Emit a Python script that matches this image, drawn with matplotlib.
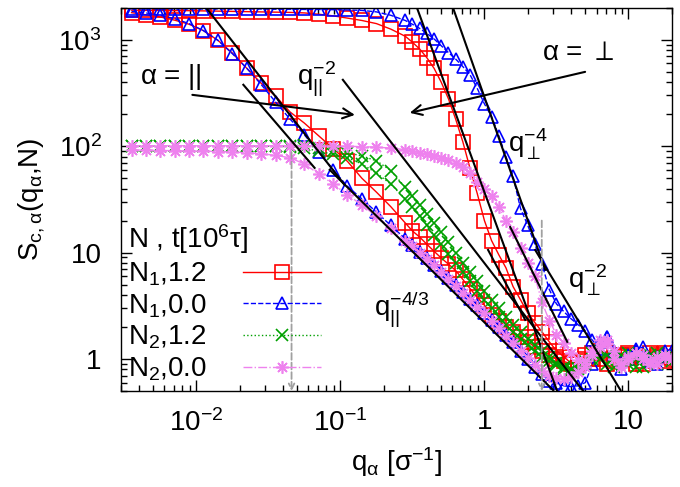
import numpy as np
import matplotlib
matplotlib.use("Agg")
import matplotlib.pyplot as plt
from matplotlib.lines import Line2D

plt.rcParams['font.family'] = ['Liberation Sans', 'DejaVu Sans']
plt.rcParams['mathtext.fontset'] = 'custom'
plt.rcParams['mathtext.rm'] = 'Liberation Sans'
plt.rcParams['mathtext.it'] = 'Liberation Sans:italic'
plt.rcParams['mathtext.bf'] = 'Liberation Sans:bold'
plt.rcParams['mathtext.sf'] = 'Liberation Sans'
plt.rcParams['mathtext.fallback'] = 'stixsans'

# ---- data ----
q = [0.00355, 0.00447, 0.00562, 0.00708, 0.00891, 0.0112, 0.0141, 0.0178, 0.0224, 0.0282,
     0.0355, 0.0447, 0.0562, 0.0708, 0.0891, 0.112, 0.141, 0.178, 0.224, 0.282,
     0.316, 0.355, 0.398, 0.447, 0.501, 0.562, 0.631, 0.708, 0.794, 0.891,
     1.0, 1.12, 1.26, 1.41, 1.58, 1.78, 2.0, 2.24, 2.51, 2.82,
     3.16, 3.55, 3.98, 4.47, 5.01, 5.62, 6.31, 7.08, 7.94, 8.91,
     10.0, 11.2, 12.6, 14.1, 15.8, 17.8, 20.0]

# N1, t=1.2
n1_12_par = [1800, 1720, 1640, 1530, 1400, 1220, 990, 750, 540, 390,
             295, 210, 165, 125, 95, 72, 50, 37, 27, 19,
             16, 14, 12, 10.3, 8.9, 7.8, 6.8, 5.6, 4.6, 3.8,
             3.2, 2.6, 2.3, 2.0, 1.8, 1.6, 1.45, 1.3, 1.2, 1.1,
             1.0, 0.95, 0.9, 0.95, 1.1, 1.0, 1.2, 1.15, 0.95, 1.05,
             1.1, 0.9, 0.95, 1.15, 1.05, 0.95, 1.0]
n1_12_perp = [1900, 1890, 1890, 1880, 1880, 1870, 1860, 1850, 1840, 1830,
              1820, 1810, 1790, 1740, 1680, 1600, 1520, 1420, 1260, 1080,
              950, 820, 680, 540, 400, 280, 180, 110, 62, 36,
              20, 13, 9.5, 7.2, 4.8, 3.6, 2.7, 2.2, 1.8, 1.45,
              1.2, 1.05, 0.92, 0.9, 1.0, 1.15, 1.0, 0.9, 1.0, 1.1,
              1.15, 1.05, 0.9, 1.0, 1.1, 1.15, 1.05]
# N1, t=0.0
n1_00_par = [1850, 1790, 1700, 1580, 1420, 1220, 990, 740, 540, 380,
             260, 180, 128, 88, 60, 42, 32, 24, 18, 13.5,
             11.7, 10.2, 8.9, 7.7, 6.7, 5.8, 5.0, 4.3, 3.7, 3.2,
             2.7, 2.35, 2.0, 1.7, 1.45, 1.2, 1.0, 0.85, 0.72, 0.62,
             0.6, 0.56, 0.55, 0.56, 0.6, 0.9, 1.45, 1.6, 1.1, 0.8,
             1.0, 1.2, 1.3, 1.0, 0.9, 1.1, 1.2]
n1_00_perp = [1950, 1950, 1950, 1950, 1950, 1950, 1950, 1950, 1950, 1950,
              1940, 1940, 1930, 1930, 1920, 1910, 1890, 1830, 1700, 1520,
              1400, 1280, 1150, 1020, 880, 760, 660, 560, 470, 350,
              250, 190, 125, 80, 52, 26, 18, 12, 7.8, 4.5,
              3.3, 2.8, 2.4, 2.1, 1.85, 1.5, 1.25, 1.6, 1.2, 0.95,
              1.1, 1.25, 1.05, 0.95, 1.05, 1.2, 1.1]
# N2, t=1.2
n2_12_par = [100, 100, 100, 100, 100, 100, 100, 100, 100, 100,
             100, 99, 96, 90, 84, 78, 68, 56, 44, 32,
             27, 22, 18, 14.5, 12, 9.8, 8.0, 6.6, 5.4, 4.4,
             3.6, 3.0, 2.5, 2.1, 1.8, 1.55, 1.35, 1.18, 1.05, 0.95,
             0.87, 0.8, 0.78, 0.8, 0.95, 1.15, 1.0, 0.9, 1.05, 1.1,
             0.9, 0.85, 1.05, 1.1, 0.9, 1.0, 1.05]
n2_12_perp = [101, 101, 100, 100, 101, 100, 100, 101, 100, 100,
              101, 101, 102, 97, 91, 87, 81, 73, 59, 41,
              34, 28, 23, 19, 15.5, 12.5, 10, 8.0, 6.6, 5.4,
              4.4, 3.6, 3.0, 2.5, 2.1, 1.8, 1.55, 1.35, 1.2, 1.05,
              0.92, 0.85, 0.8, 0.82, 0.9, 1.0, 1.2, 1.1, 0.85, 0.95,
              1.15, 1.0, 0.85, 0.95, 1.15, 1.05, 0.95]
# N2, t=0.0
n2_00_par = [92, 92, 91, 91, 90, 90, 89, 88, 87, 85,
             82, 78, 68, 55, 44, 35, 28, 22, 17, 13,
             11.5, 10, 8.8, 7.6, 6.6, 5.7, 4.9, 4.2, 3.6, 3.1,
             2.7, 2.3, 1.95, 1.65, 1.4, 1.2, 1.02, 0.88, 0.77, 0.7,
             0.66, 0.65, 0.68, 0.75, 0.85, 1.1, 1.5, 1.4, 1.0, 0.85,
             1.0, 1.15, 1.1, 0.95, 0.9, 1.05, 1.0]
n2_00_perp = [101, 101, 101, 101, 101, 101, 101, 101, 101, 101,
              101, 101, 101, 101, 100, 100, 99, 98, 96, 93,
              90, 87, 84, 81, 78, 74, 70, 64, 56, 46,
              40, 34, 27, 20, 15.5, 11, 8, 6, 3.4, 2.3,
              1.7, 1.4, 1.15, 0.98, 0.95, 1.2, 1.3, 1.5, 1.2, 0.9,
              1.05, 1.15, 1.0, 0.9, 1.05, 1.1, 1.0]

# black power-law guide lines: (q0, S0, q1, S1)
guide_lines = [
    (0.0117, 2000, 0.107, 43.3),    # steep || fit
    (0.0212, 378, 0.0662, 62.6),    # short || fit
    (0.0843, 60, 3.0, 0.51),        # q_||^-4/3
    (0.104, 421, 4.85, 0.50),       # q_||^-2
    (0.34, 2000, 3.2, 0.50),        # q_perp^-4 (N1, 1.2)
    (0.605, 2000, 2.64, 6.9),       # q_perp^-4 (N1, 0.0)
    (2.25, 10.6, 8.8, 0.51),        # q_perp^-2
    (1.51, 17.4, 3.76, 1.45),       # short perp fit
    (1.06, 10.6, 1.92, 2.33),       # short perp fit
]

# grey dashed markers (q, top S)
vmarks = [(0.0458, 88), (2.5, 20)]

series = [
    (n1_12_par, n1_12_perp, 'red', 's', '-', r'N$_1$,1.2'),
    (n1_00_par, n1_00_perp, 'blue', '^', '--', r'N$_1$,0.0'),
    (n2_12_par, n2_12_perp, '#00a000', 'x', ':', r'N$_2$,1.2'),
    (n2_00_par, n2_00_perp, 'violet', (8, 2, 0), '-.', r'N$_2$,0.0'),
]

fig = plt.figure(figsize=(6.8, 4.87), dpi=100)
ax = fig.add_axes([0.178, 0.197, 0.81, 0.787])

handles = []
for par, perp, col, mk, ls, lab in series:
    ms = 10 if mk == 's' else 9
    for yv in (par, perp):
        ax.plot(q, yv, color=col, ls=ls, lw=1.0, marker=mk, ms=ms, mfc='none',
                mec=col, mew=1.2)
    handles.append(Line2D([], [], color=col, ls=ls, lw=1.0, marker=mk, ms=ms,
                          mfc='none', mec=col, mew=1.2))

for q0, s0, q1, s1 in guide_lines:
    ax.plot([q0, q1], [s0, s1], color='black', lw=1.5)

for qv, top in vmarks:
    ax.annotate('', xy=(qv, 0.5), xytext=(qv, top),
                arrowprops=dict(arrowstyle='->', color='#a0a0a0', lw=1.3,
                                ls='--', shrinkA=0, shrinkB=0))

# direction arrows
ax.annotate('', xy=(0.126, 197), xytext=(0.00938, 304),
            arrowprops=dict(arrowstyle='->', color='black', lw=1.5,
                            shrinkA=0, shrinkB=0, mutation_scale=18))
ax.annotate('', xy=(0.303, 206), xytext=(5.0, 500),
            arrowprops=dict(arrowstyle='->', color='black', lw=1.5,
                            shrinkA=0, shrinkB=0, mutation_scale=18))

fs = 20
ax.text(0.0067, 450, r'$\mathrm{\alpha}$ = ||', fontsize=fs, ha='center', va='center')
ax.text(4.48, 757, r'$\mathrm{\alpha}$ = $\perp$', fontsize=fs, ha='center', va='center')
ax.text(0.0497, 370, r'q$_{||}^{-2}$', fontsize=fs, ha='left', va='baseline')
ax.text(1.46, 86.7, r'q$_{\perp}^{-4}$', fontsize=fs, ha='left', va='baseline')
ax.text(0.171, 2.54, r'q$_{||}^{-4/3}$', fontsize=fs, ha='left', va='baseline')
ax.text(3.82, 4.65, r'q$_{\perp}^{-2}$', fontsize=fs, ha='left', va='baseline')

ax.set_xscale('log')
ax.set_yscale('log')
ax.set_xlim(0.003, 20)
ax.set_ylim(0.5, 2000)

ax.set_xticks([0.01, 0.1, 1, 10])
ax.set_xticklabels([r'10$^{-2}$', r'10$^{-1}$', '1', '10'])
ax.set_yticks([1, 10, 100, 1000])
ax.set_yticklabels(['1', '10', r'10$^2$', r'10$^3$'])
ax.tick_params(which='both', direction='in', top=True, right=True, labelsize=fs)
ax.tick_params(axis='y', which='major', length=8, width=1, pad=14)
ax.tick_params(axis='x', which='major', length=8, width=1, pad=13)
ax.tick_params(which='minor', length=4, width=1)
for sp in ax.spines.values():
    sp.set_linewidth(1.0)

ax.set_xlabel(r'q$_{\mathrm{\alpha}}$ [$\mathrm{\sigma}^{-1}$]', fontsize=fs, labelpad=6)
ax.set_ylabel(r'S$_{\mathrm{c,\alpha}}$(q$_{\mathrm{\alpha}}$,N)', fontsize=fs, labelpad=8)

leg = ax.legend(handles, [s[5] for s in series], loc='upper left',
                bbox_to_anchor=(0.012, 0.44), frameon=False, fontsize=fs,
                markerfirst=False, numpoints=1, handlelength=2.8,
                handletextpad=1.3, labelspacing=0.15, borderpad=0,
                borderaxespad=0, title=r'N , t[10$^6$$\mathrm{\tau}$]',
                title_fontsize=fs, alignment='left')

fig.savefig('out.png', dpi=100)
